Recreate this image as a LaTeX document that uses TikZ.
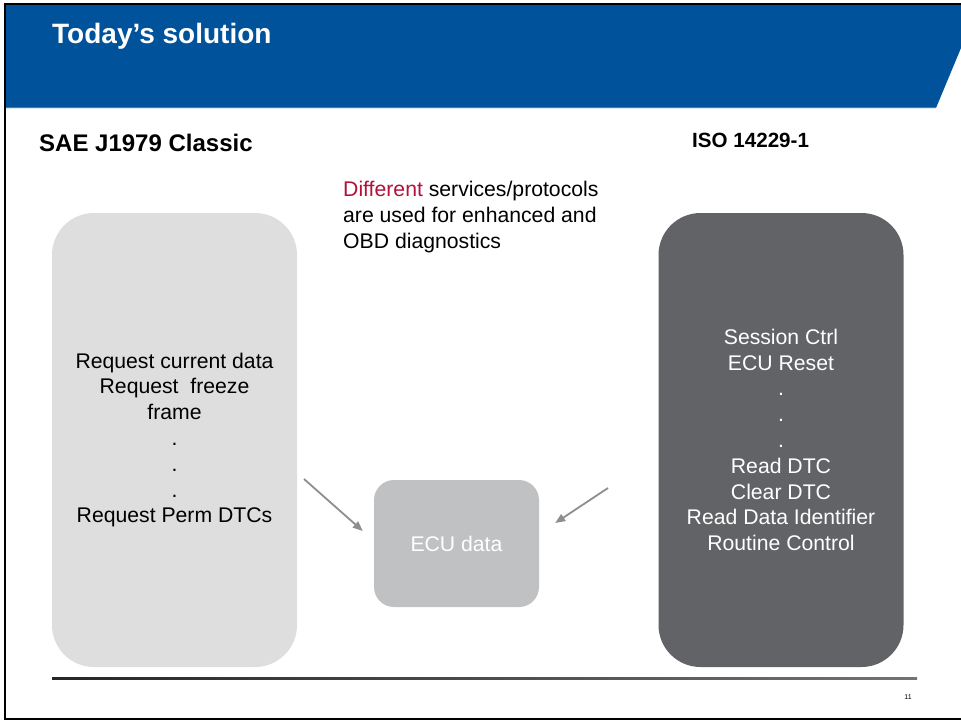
\documentclass[tikz,border=0pt]{standalone}
\usepackage{fontspec}
\setmainfont{Liberation Sans}
\usetikzlibrary{arrows.meta,positioning,shapes}

\definecolor{bannerblue}{RGB}{0,83,155}
\definecolor{bannerline}{RGB}{70,125,185}
\definecolor{oldbox}{RGB}{222,222,222}
\definecolor{udsbox}{RGB}{98,99,102}
\definecolor{databox}{RGB}{192,193,194}
\definecolor{flowgray}{RGB}{142,142,142}
\definecolor{hilite}{RGB}{178,18,60}

\begin{document}
\begin{tikzpicture}[%
    x=1pt, y=-1pt,                      % slide units, y going down
    >={Triangle[length=10pt,width=8pt]},
    ]

\tikzset{
    body/.style={font={\fontsize{21.2}{25.8}\selectfont}},
    svcbox/.style={body, rectangle, rounded corners=42pt, align=center,
        minimum width=245pt, minimum height=454pt, inner sep=0pt},
    ecubox/.style={body, rectangle, rounded corners=20pt, fill=databox,
        text=white, minimum width=165pt, minimum height=127pt},
    heading/.style={font={\fontsize{24}{28}\selectfont\bfseries}, inner sep=0pt},
    % Arrows into the shared data box
    feed/.style={->, draw=flowgray, line width=1.8pt},
}

\useasboundingbox (0,0) rectangle (961,721);
\fill[white] (0,0) rectangle (961,721);

%% Title banner and slide frame
\fill[bannerblue] (5,5) -- (961,5) -- (961,48) -- (936,108) -- (5,108) -- cycle;
\draw[bannerline, line width=1pt] (5,107.5) -- (936.2,107.5);
\draw[black, line width=2pt] (961,4) -- (5,4) -- (5,719) -- (961,719);
\node[anchor=base west, inner sep=0pt, text=white,
      font={\fontsize{28}{32}\selectfont\bfseries}] (title) at (52,43) {Today’s solution};

%% Column headings
\node[heading, anchor=base west] (sae) at (39,151) {SAE J1979 Classic};
\node[heading, anchor=base west, font={\fontsize{20.6}{24}\selectfont\bfseries}] (iso) at (692,147) {ISO 14229-1};

\node[body, anchor=north west, align=left, inner sep=0pt] (note) at (343,181)
    {\textcolor{hilite}{Different} services/protocols\\are used for enhanced and\\OBD diagnostics};

%% Service boxes
\node[svcbox, fill=oldbox] (obd) at (174.5,440)
    {Request current data\\Request\ \ freeze\\frame\\.\\.\\.\\Request Perm DTCs};
\node[svcbox, fill=udsbox, text=white] (uds) at (781,440)
    {Session Ctrl\\ECU Reset\\.\\.\\.\\Read DTC\\Clear DTC\\Read Data Identifier\\Routine Control};

\node[ecubox] (ecu) at (456.5,543.5) {ECU data};

\coordinate (obdout) at (304,479);
\coordinate (udsout) at (608,488);
\draw[feed] (obdout) -- ([xshift=-11pt,yshift=12.5pt]ecu.west);
\draw[feed] (udsout) -- ([xshift=16pt,yshift=20.5pt]ecu.east);

%% Footer
\shade[left color=black!85, right color=black!55] (52,677) rectangle (917,679.5);
\node[inner sep=0pt, font={\fontsize{7}{8}\selectfont}] (page) at (908,697) {11};
\end{tikzpicture}
\end{document}
